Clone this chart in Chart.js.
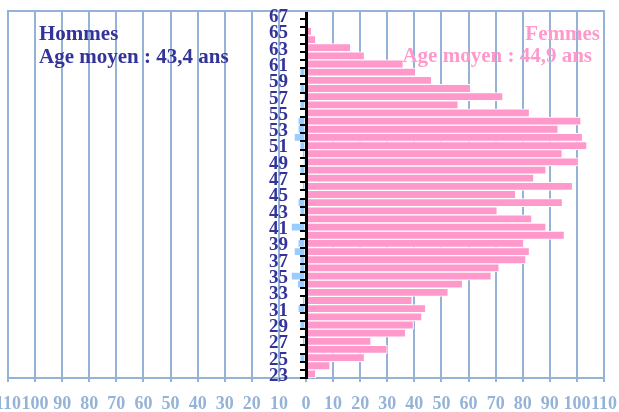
<!DOCTYPE html>
<html>
<head>
<meta charset="utf-8">
<script src="https://cdn.jsdelivr.net/npm/chart.js@4.4.1/dist/chart.umd.min.js"></script>
<style>
  html, body { margin: 0; padding: 0; background: #fff; }
  #wrap { width: 619px; height: 412px; }
</style>
</head>
<body>
<div id="wrap"><canvas id="pyramide"></canvas></div>
<script>
// ages, bottom to top
const AGES = [23, 24, 25, 26, 27, 28, 29, 30, 31, 32, 33, 34, 35, 36, 37, 38, 39, 40, 41, 42, 43, 44,
  45, 46, 47, 48, 49, 50, 51, 52, 53, 54, 55, 56, 57, 58, 59, 60, 61, 62, 63, 64, 65, 66, 67];

// effectifs hommes (drawn on the left)
const HOMMES = [0, 0, 2.3, 0, 1.4, 0, 2.3, 0, 3, 1.4, 0, 3.2, 5.5, 2.3, 2.3, 4.4, 3, 0, 5.5, 0, 2.3, 3,
  0, 1.4, 0, 2.3, 1, 1.4, 2.3, 4.4, 3, 3, 0, 2.3, 1, 2.3, 0, 2.3, 0, 0, 0, 0, 0, 0, 0];

// effectifs femmes (drawn on the right)
const FEMMES = [3.6, 8.9, 21.6, 30, 24, 36.8, 39.7, 42.8, 44.2, 39.2, 52.5, 57.8, 68.4, 71.3, 81.2, 82.5,
  80.4, 95.4, 88.6, 83.4, 70.6, 94.7, 77.4, 98.4, 84.1, 88.6, 100.6, 94.6, 103.7, 102.1, 93.1, 101.5,
  82.5, 56.2, 72.7, 60.8, 46.4, 40.5, 35.9, 21.6, 16.5, 3.6, 2.1, 0, 0];

const X_MIN = -110;
const X_MAX = 110;
const X_STEP = 10;

const TITLE_H = ["Hommes", "Age moyen : 43,4 ans"];
const TITLE_F = ["Femmes", "Age moyen : 44,9 ans"];

const COLOR = {
  hommes: "#99ccff",
  femmes: "#ff99cc",
  grid: "#95b3d7",
  dark: "#333399",
};

const SERIF = "'Liberation Serif', 'Times New Roman', serif";

// top frame line, age labels left of the centre axis, corner titles
const decor = {
  id: "decor",
  afterDraw(chart) {
    const { ctx, chartArea } = chart;
    const xs = chart.scales.x;
    const ys = chart.scales.y;
    ctx.save();
    ctx.strokeStyle = COLOR.grid;
    ctx.lineWidth = 2;
    ctx.beginPath();
    ctx.moveTo(chartArea.left - 1, chartArea.top);
    ctx.lineTo(chartArea.right + 1, chartArea.top);
    ctx.stroke();

    // age labels (every other year)
    const x0 = xs.getPixelForValue(0);
    ctx.font = "bold 19px " + SERIF;
    ctx.fillStyle = COLOR.dark;
    ctx.textAlign = "right";
    ctx.textBaseline = "middle";
    AGES.forEach((age, i) => {
      if (age % 2) ctx.fillText(String(age), x0 - 18, ys.getPixelForValue(i) + 2);
    });

    ctx.font = "bold 21px " + SERIF;
    ctx.textBaseline = "alphabetic";
    ctx.fillStyle = COLOR.dark;
    ctx.textAlign = "left";
    ctx.fillText(TITLE_H[0], 39, 40);
    ctx.fillText(TITLE_H[1], 39, 63);
    ctx.fillStyle = COLOR.femmes;
    ctx.textAlign = "right";
    ctx.fillText(TITLE_F[0], 600, 40);
    ctx.fillText(TITLE_F[1], 592, 62);
    ctx.restore();
  },
};

const barStyle = {
  borderColor: "#ffffff",
  borderWidth: 1,
  borderSkipped: false,
  barPercentage: 1,
  categoryPercentage: 1,
};

new Chart(document.getElementById("pyramide"), {
  type: "bar",
  data: {
    labels: AGES,
    datasets: [
      { label: "Hommes", data: HOMMES.map(v => -v), backgroundColor: COLOR.hommes, ...barStyle },
      { label: "Femmes", data: FEMMES, backgroundColor: COLOR.femmes, ...barStyle },
    ],
  },
  options: {
    indexAxis: "y",
    responsive: true,
    maintainAspectRatio: false,
    animation: false,
    layout: { padding: { left: 8, right: 15, top: 11, bottom: 0 } },
    plugins: {
      legend: { display: false },
      tooltip: { enabled: false },
      title: { display: false },
    },
    scales: {
      x: {
        type: "linear",
        min: X_MIN,
        max: X_MAX,
        stacked: true,
        grid: {
          color: COLOR.grid,
          lineWidth: 2,
          drawTicks: true,
          tickLength: 4,
        },
        border: { color: COLOR.grid, width: 2 },
        ticks: {
          stepSize: X_STEP,
          autoSkip: false,
          maxRotation: 0,
          minRotation: 0,
          padding: 12,
          color: COLOR.grid,
          font: { family: SERIF, weight: "bold", size: 18 },
          callback: v => Math.abs(v),
        },
        afterFit: s => {
          s.paddingLeft = 0;
          s.paddingRight = 0;
          s.height = 34;
        },
      },
      y: {
        type: "category",
        position: { x: 0 },
        reverse: true,
        stacked: true,
        grid: {
          drawOnChartArea: false,
          drawTicks: true,
          tickLength: 5,
          color: "#000",
          lineWidth: 2,
          z: 1,
        },
        border: { color: "#000", width: 3, z: 1 },
        ticks: { display: false, autoSkip: false },
        afterFit: s => {
          s.paddingTop = 0;
          s.paddingBottom = 0;
        },
      },
    },
  },
  plugins: [decor],
});
</script>
</body>
</html>
